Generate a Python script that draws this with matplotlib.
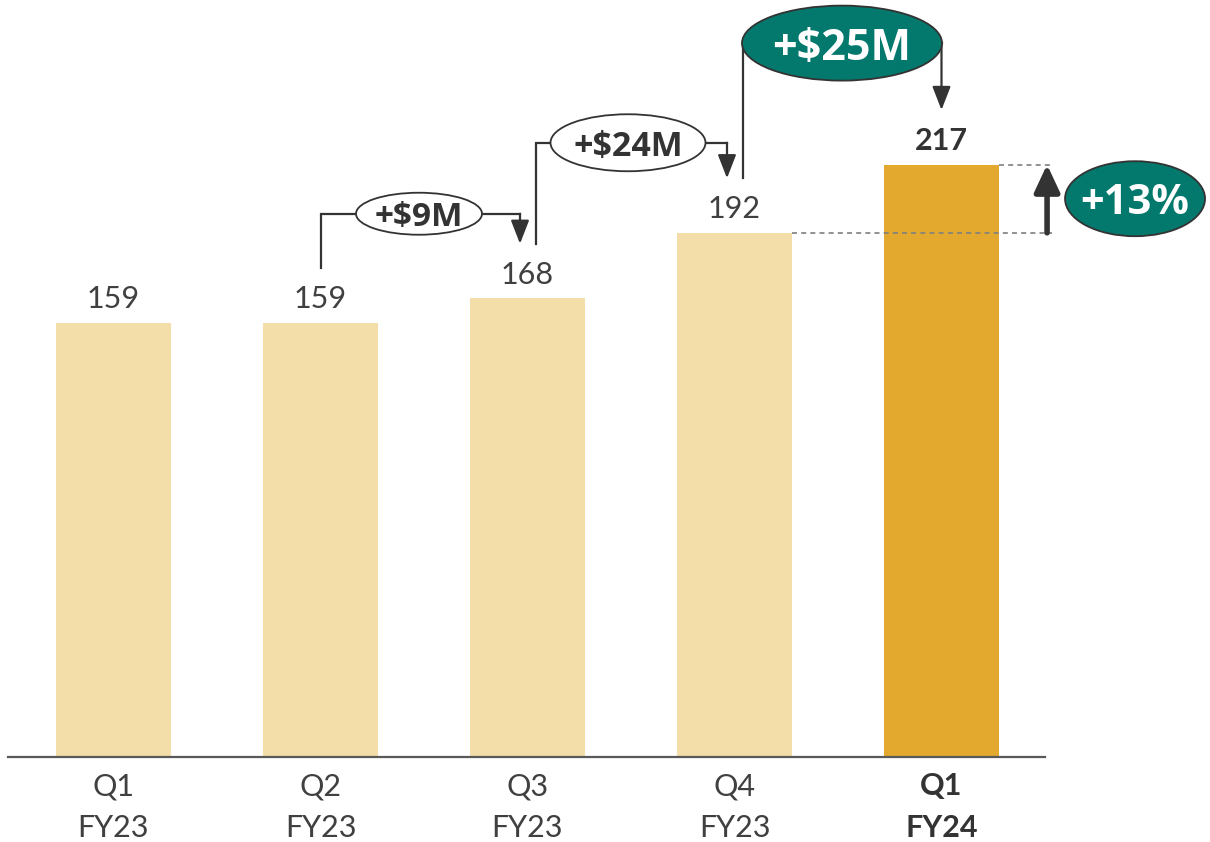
import matplotlib
matplotlib.use("Agg")
import matplotlib.pyplot as plt
from matplotlib.patches import Ellipse

plt.rcParams['font.family'] = ['Lato', 'DejaVu Sans']

# data
quarters = ["Q1\nFY23", "Q2\nFY23", "Q3\nFY23", "Q4\nFY23", "Q1\nFY24"]
revenue = [159, 159, 168, 192, 217]
step_labels = ["+$9M", "+$24M", "+$25M"]   # Q2->Q3, Q3->Q4, Q4->Q1FY24
growth_label = "+13%"

LIGHT = "#F3DEAA"
GOLD = "#E3A92E"
TEAL = "#03786D"
DARK = "#333333"
TXT = "#404040"
BOLD_FONT = ['Open Sans', 'DejaVu Sans']

fig = plt.figure(figsize=(12.1, 8.42), dpi=100)
ax = fig.add_axes([0, 85 / 842, 1, 757 / 842])
ax.set_xlim(-113.5 / 207, (1210 - 113.5) / 207)
ax.set_ylim(0, 757 / 2.73)
px_x = 1 / 207    # data units per pixel
px_y = 1 / 2.73

x = list(range(len(revenue)))
colors = [LIGHT] * (len(revenue) - 1) + [GOLD]
ax.bar(x, revenue, width=0.556, color=colors, zorder=2)

# baseline
ax.plot([x[0] - 0.51, x[-1] + 0.5], [0, 0], color="#595959", lw=1.6,
        clip_on=False, zorder=3)

# value labels
for i, v in enumerate(revenue):
    last = i == len(revenue) - 1
    ax.annotate(str(v), (i, v), xytext=(0, 7), textcoords="offset points",
                ha="center", va="bottom", fontsize=22, color=TXT if not last else DARK,
                fontweight="bold" if last else "normal")

# x tick labels
ax.set_xticks(x)
ax.set_xticklabels(quarters, fontsize=22, color=TXT, linespacing=1.6)
ax.get_xticklabels()[-1].set_fontweight("bold")
ax.get_xticklabels()[-1].set_color(DARK)
ax.tick_params(axis="x", length=0, pad=11)
ax.set_yticks([])
for s in ax.spines.values():
    s.set_visible(False)

# step connectors between consecutive quarters
gap = 20
levels = [199, 225, 261.5]
out_dx = [0.0, 8.5, 8.5]      # pixel offset of the outgoing line
in_dx = [-7.5, -7.5, 0.0]     # pixel offset of the incoming arrow
ell_w = [126, 155, 200]
ell_h = [42, 57, 75]
ell_dx = [-5, -3, 4]
fsizes = [24, 24.5, 31]
for k, lab in enumerate(step_labels):
    i0, i1 = k + 1, k + 2
    xa = i0 + out_dx[k] * px_x
    xb = i1 + in_dx[k] * px_x
    L = levels[k]
    ax.plot([xa, xa, xb], [revenue[i0] + gap, L, L], color=DARK, lw=1.6,
            solid_joinstyle="miter", zorder=3)
    ax.annotate("", xy=(xb, revenue[i1] + gap), xytext=(xb, L),
                arrowprops=dict(arrowstyle="-|>,head_width=0.35,head_length=0.9",
                                color=DARK, lw=1.6, mutation_scale=16,
                                shrinkA=0, shrinkB=0), zorder=3)
    teal = k == len(step_labels) - 1
    cx = (i0 + i1) / 2 + ell_dx[k] * px_x
    ax.add_patch(Ellipse((cx, L), ell_w[k] * px_x, ell_h[k] * px_y,
                         facecolor=TEAL if teal else "white", edgecolor=DARK,
                         lw=1.3, zorder=4))
    ax.text(cx, L, lab, ha="center", va="center_baseline", fontsize=fsizes[k],
            fontweight="bold", family=BOLD_FONT,
            color="white" if teal else DARK, zorder=5)

# year-over-year growth marker
xr = x[-1] + 0.534
ax.plot([x[-2] + 0.278, xr], [revenue[-2], revenue[-2]], ls=(0, (3, 2.5)),
        color="#7F7F7F", lw=1.2, zorder=3)
ax.plot([x[-1] + 0.278, xr], [revenue[-1], revenue[-1]], ls=(0, (3, 2.5)),
        color="#7F7F7F", lw=1.2, zorder=3)
xg = x[-1] + 0.51
ax.annotate("", xy=(xg, revenue[-1]), xytext=(xg, revenue[-2]),
            arrowprops=dict(arrowstyle="-|>,head_width=0.35,head_length=0.75",
                            color=DARK, lw=4, mutation_scale=22,
                            shrinkA=0, shrinkB=0), zorder=4)
gx = x[-1] + 0.935
gy = (revenue[-1] + revenue[-2]) / 2
ax.add_patch(Ellipse((gx, gy), 140 * px_x, 75 * px_y, facecolor=TEAL,
                     edgecolor=DARK, lw=1.3, zorder=4, clip_on=False))
ax.text(gx, gy, growth_label, ha="center", va="center_baseline", fontsize=30,
        fontweight="bold", family=BOLD_FONT, color="white", zorder=5)

fig.savefig("out.png", dpi=100)
